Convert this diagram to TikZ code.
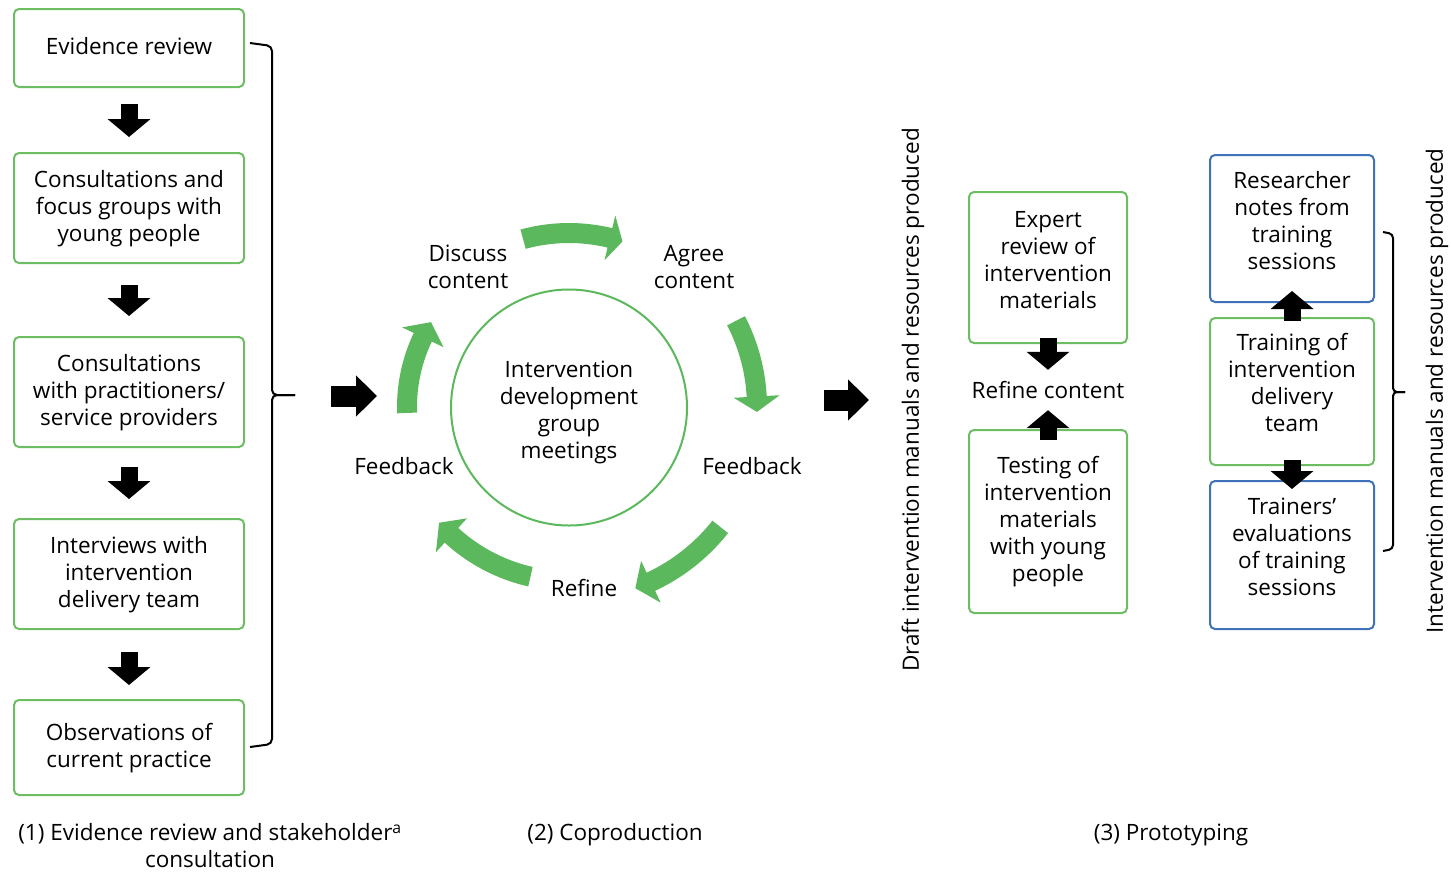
\documentclass[tikz,border=0pt]{standalone}
\usepackage{fontspec}
\setmainfont{Open Sans}
\usetikzlibrary{positioning}
\usetikzlibrary{arrows.meta}
\definecolor{boxgreen}{HTML}{6DBE63}
\definecolor{cyclegreen}{HTML}{5CB85C}
\definecolor{boxblue}{HTML}{3F72B9}
\tikzset{
  flowbox/.style={draw=boxgreen, line width=2pt, rounded corners=5pt, align=center, text depth=5pt, inner sep=0pt},
  bluebox/.style={flowbox, draw=boxblue},
  downarrow/.style={line width=17pt, -{Triangle[width=42pt,length=18pt]}},
  bigarrow/.style={line width=21pt, -{Triangle[width=40pt,length=21pt]}},
  bracket/.style={line width=2pt, rounded corners=5pt}
}
% curved green arrow of the cycle: tail angle, head angle, tip angle, radius
\newcommand{\cyclearrow}[4]{%
  \fill[cyclegreen] plot[domain=#1:#2,samples=20] (\x:{#4+10}) -- (#2:{#4+23}) -- (#3:#4)
    -- (#2:{#4-23}) -- plot[domain=#2:#1,samples=20] (\x:{#4-10}) -- cycle;}

\begin{document}
\begin{tikzpicture}[x=1pt,y=-1pt,font=\fontsize{22.5}{27}\selectfont]
\useasboundingbox (0,0) rectangle (1451,871);

% (1) evidence review and stakeholder consultation
\node [flowbox, minimum width=230pt, minimum height=78pt] (evid) at (129,48) {Evidence review};
\node [flowbox, minimum width=230pt, minimum height=110pt, below=64pt of evid] (young) {Consultations and\\focus groups with\\young people};
\node [flowbox, minimum width=230pt, minimum height=110pt, below=72pt of young] (pract) {Consultations\\with practitioners/\\service providers};
\node [flowbox, minimum width=230pt, minimum height=110pt, below=70pt of pract] (interv) {Interviews with\\intervention\\delivery team};
\node [flowbox, minimum width=230pt, minimum height=95pt, below=69pt of interv] (observ) {Observations of\\current practice};

\draw [downarrow, shorten <=16pt, shorten >=15pt] (evid) -- (young);
\draw [downarrow, shorten <=21pt, shorten >=20pt] (young) -- (pract);
\draw [downarrow, shorten <=19pt, shorten >=19pt] (pract) -- (interv);
\draw [downarrow, shorten <=22pt, shorten >=14pt] (interv) -- (observ);

\coordinate (brace1) at (295,395);
\draw [bracket] (250,43) -- (272,46) -- (272,395) -- (brace1);
\draw [bracket] (brace1) -- (272,395) -- (272,744) -- (250,747);
\coordinate (go1) at (331,396);
\draw [bigarrow] (go1) -- ++(46,0);

% (2) coproduction cycle
\node [circle, draw=cyclegreen, line width=2pt, minimum size=236pt, align=center, text height=107pt, text depth=5pt] (meet) at (569,407.5) {Intervention\\development\\group\\meetings};
\node [align=center] (discuss) at (468,267) {Discuss\\content};
\node [align=center] (agree) at (694,267) {Agree\\content};
\node (feedright) at (752,466) {Feedback};
\node (refine) at (584,588) {Refine};
\node (feedleft) at (404,466) {Feedback};
\begin{scope}[shift={(569,407)}]
\cyclearrow{254.7}{283.6}{287.9}{174}
\cyclearrow{332.7}{356.8}{361.5}{188}
\cyclearrow{38.4}{64.9}{69.9}{193}
\cyclearrow{102.8}{132.5}{138.3}{174}
\cyclearrow{177.9}{205.5}{211.6}{162}
\end{scope}

\coordinate (go2) at (824,400);
\draw [bigarrow] (go2) -- ++(45,0);
\node [rotate=90] (draft) at (913,400) {Draft intervention manuals and resources produced};

% (3) prototyping
\node [flowbox, minimum width=158pt, minimum height=151pt, text depth=16pt] (expert) at (1048,267.5) {Expert\\review of\\intervention\\materials};
\node [minimum height=40pt, inner sep=0pt] (refcontent) at (1048,390) {Refine content};
\node [flowbox, minimum width=158pt, minimum height=183pt] (testing) at (1048,521.5) {Testing of\\intervention\\materials\\with young\\people};
\draw [downarrow, shorten <=-6pt] (expert) -- (refcontent);
\draw [downarrow, shorten <=-11pt] (testing) -- (refcontent);

\node [bluebox, minimum width=164pt, minimum height=147pt, text depth=16pt] (research) at (1292,228.5) {Researcher\\notes from\\training\\sessions};
\node [flowbox, minimum width=164pt, minimum height=147pt, text depth=18pt] (training) at (1292,391.5) {Training of\\intervention\\delivery\\team};
\node [bluebox, minimum width=164pt, minimum height=148pt, text depth=16pt] (trainers) at (1292,555) {Trainers’\\evaluations\\of training\\sessions};
\draw [downarrow, shorten <=-4pt, shorten >=-12pt] (training) -- (research);
\draw [downarrow, shorten <=-6pt, shorten >=-9pt] (training) -- (trainers);

\coordinate (brace2) at (1405,392);
\draw [bracket, rounded corners=4pt] (1383,232) -- (1393,234) -- (1393,392) -- (brace2);
\draw [bracket, rounded corners=4pt] (brace2) -- (1393,392) -- (1393,549) -- (1383,551);
\node [rotate=90] (final) at (1437,391) {Intervention manuals and resources produced};

% stage captions
\node [align=center] (cap1) at (210,846) {(1) Evidence review and stakeholder\textsuperscript{a}\\consultation};
\node (cap2) at (615,835) {(2) Coproduction};
\node (cap3) at (1171,835) {(3) Prototyping};
\end{tikzpicture}
\end{document}
